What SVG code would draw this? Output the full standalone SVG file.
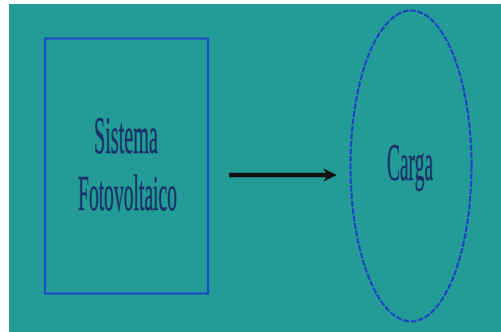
<svg xmlns="http://www.w3.org/2000/svg" width="501" height="332" viewBox="0 0 501 332">
<defs>
<style>
.lbl{font-family:"Liberation Serif","Times New Roman",serif;fill:#1b3068;stroke:#1b3068;stroke-width:0.4;}
</style>
<marker id="ah" viewBox="0 0 10 10" refX="5" refY="5" markerWidth="3" markerHeight="3.4" orient="auto" markerUnits="strokeWidth">
<path d="M0,0 L10,5 L0,10 L3,5 Z" fill="#111"/>
</marker>
</defs>
<rect x="0" y="0" width="501" height="332" fill="#ffffff"/>
<rect x="9" y="4" width="492" height="328" fill="#239b96"/>
<g id="sistema">
<rect x="45" y="38.5" width="163" height="255" fill="none" stroke="#1f4fc8" stroke-width="2.2"/>
<text class="lbl" x="126" y="153" font-size="52" text-anchor="middle" textLength="64" lengthAdjust="spacingAndGlyphs">Sistema</text>
<text class="lbl" x="127.5" y="210" font-size="50" text-anchor="middle" textLength="99" lengthAdjust="spacingAndGlyphs">Fotovoltaico</text>
</g>
<g id="carga">
<ellipse cx="411" cy="166" rx="60.5" ry="155.5" fill="none" stroke="#1f45c4" stroke-width="2.2" stroke-dasharray="6 1.5"/>
<text class="lbl" x="410" y="180" font-size="52" text-anchor="middle" textLength="46" lengthAdjust="spacingAndGlyphs">Carga</text>
</g>
<g id="connectors">
<line x1="229" y1="175" x2="330" y2="175" stroke="#111" stroke-width="4.5" marker-end="url(#ah)"/>
</g>
</svg>
